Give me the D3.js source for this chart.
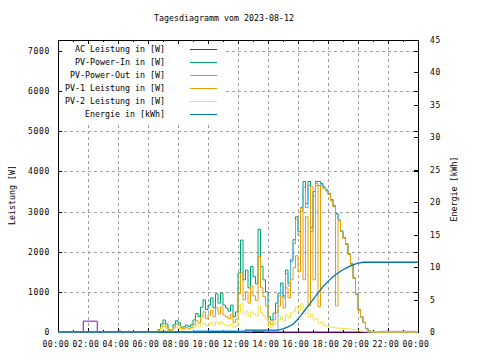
<!DOCTYPE html>
<html>
<head>
<meta charset="utf-8">
<script src="https://cdn.jsdelivr.net/npm/d3@7"></script>
<style>
    body { margin: 0; background: #fff; }
    svg text { font-family: "DejaVu Sans Mono", monospace; fill: #000; }
</style>
</head>
<body>
<div id="chart"></div>
<script>
//Datos
const TITLE = 'Tagesdiagramm vom 2023-08-12';
const xTickLabels = ['00:00','02:00','04:00','06:00','08:00','10:00','12:00','14:00','16:00','18:00','20:00','22:00','00:00'];
const y1Ticks = [0, 1000, 2000, 3000, 4000, 5000, 6000, 7000];
const y2Ticks = [0, 5, 10, 15, 20, 25, 30, 35, 40, 45];
const legendLabels = ['AC Leistung in [W]', 'PV-Power-In in [W]', 'PV-Power-Out in [W]', 'PV-1 Leistung in [W]', 'PV-2 Leistung in [W]', 'Energie in [kWh]'];

//AC Leistung (Stufen)
const acTimes = ['00:00','01:39','01:41','02:35','02:37','04:05','04:12','04:40','04:46','10:00','11:55','13:00','13:45','21:30','23:50'];
const acValues = [0, 0, 270, 270, 0, 25, 0, 20, 0, 15, 0, 15, 0, 15, 0];

//PV Reihen alle 10 Minuten ab 06:30
const pvStart = '06:30';
const pvStepMinutes = 10;
const pvIn = [0,60,200,300,200,60,40,180,280,230,
    120,130,170,140,180,300,460,380,620,800,
    560,670,850,600,950,720,970,670,600,520,
    670,380,500,1470,2290,1300,1540,1100,1630,1380,
    1200,2560,1630,1300,1000,380,300,470,720,970,
    1220,900,1540,1220,1800,2300,2870,2500,3100,3750,
    3200,3750,2600,3500,3750,3750,3700,3610,3540,3455,
    3300,3150,2950,2790,2520,2350,2200,1950,1700,1350,
    950,560,380,240,90,30,10,0];
const pvOut = [0,0,0,0,0,0,0,0,0,0,
    0,0,0,0,0,30,30,30,30,30,
    30,30,30,30,30,30,30,30,30,30,
    30,30,30,30,30,30,30,30,30,30,
    30,30,30,30,30,30,30,30,30,900,
    1150,850,1450,1150,1750,2200,2800,2400,3000,3600,
    3100,3650,2500,3400,3650,3650,3680,3595,3525,3440,
    3285,3135,2935,2780,2510,2340,2190,1940,1690,1340,
    940,550,375,235,85,28,8,0];
const pv1 = [0,40,130,216,140,40,30,120,200,160,
    80,90,110,90,110,180,280,220,370,500,
    330,420,540,380,600,450,620,420,380,330,
    430,240,320,950,1470,800,1000,720,1130,900,
    780,1880,1100,880,650,250,180,300,480,650,
    880,600,1100,850,1300,1600,1900,1500,3090,1300,
    2870,650,3620,1300,3700,630,3650,3580,3510,3420,
    3270,3120,650,2770,2500,2330,2180,1930,1680,1330,
    930,540,370,230,80,25,5,0];
const pv2 = [0,20,80,130,80,20,15,70,110,90,
    50,50,70,60,80,110,160,130,180,220,
    160,190,230,170,250,200,260,190,170,150,
    190,120,150,480,700,450,520,380,500,450,
    400,650,480,400,330,140,110,170,240,300,
    380,270,430,350,480,520,620,540,700,450,
    600,380,450,300,330,220,250,180,150,130,
    120,110,100,95,90,85,80,75,70,60,
    55,40,20,10,5,0,0,0];

//Energie (kWh)
const energyTimes = ['00:00','12:25','12:30','14:40','15:00','15:20','15:40','16:00','16:20','16:40','17:00','17:20','17:40','18:00','18:20','18:40','19:00','19:20','19:40','20:00','20:20','24:00'];
const energyValues = [0, 0, 0.3, 0.3, 0.5, 0.8, 1.2, 2.0, 3.0, 4.0, 5.0, 6.0, 7.0, 7.8, 8.5, 9.1, 9.6, 10.0, 10.35, 10.6, 10.75, 10.75];

//Colores fijos (gnuplot)
const COLOR_AC = '#9400d3',
COLOR_IN = '#009e73',
COLOR_OUT = '#56b4e9',
COLOR_PV1 = '#e69f00',
COLOR_PV2 = '#f0e442',
COLOR_ENERGY = '#0072b2';
const legendColors = [COLOR_AC, COLOR_IN, COLOR_OUT, COLOR_PV1, COLOR_PV2, COLOR_ENERGY];

function hours(s) {
    let p = s.split(':');
    return +p[0] + (+p[1]) / 60;
}

function initChart() {
    let margin = {top: 40, right: 62, bottom: 28, left: 58},
        totalW = 480, totalH = 360,
        width = totalW - margin.left - margin.right,
        height = totalH - margin.top - margin.bottom;

    let svg = d3.select('#chart')
        .append('svg')
            .attr('width', totalW)
            .attr('height', totalH);

    let x = d3.scaleLinear().domain([0, 24]).range([margin.left, margin.left + width]);
    let y1 = d3.scaleLinear().domain([0, 7275]).range([margin.top + height, margin.top]);
    let y2 = d3.scaleLinear().domain([0, 45]).range([margin.top + height, margin.top]);

    let x0 = margin.left, x1 = margin.left + width, yb = margin.top + height, yt = margin.top;

    //Gitter
    let grid = svg.append('g')
        .attr('stroke', '#a0a0a0')
        .attr('stroke-dasharray', '3,3')
        .attr('shape-rendering', 'crispEdges');
    grid.selectAll('.vgrid')
        .data(d3.range(2, 24, 2))
        .enter()
        .append('line')
        .attr('x1', function(d) { return Math.round(x(d)) + 0.5; })
        .attr('x2', function(d) { return Math.round(x(d)) + 0.5; })
        .attr('y1', yb)
        .attr('y2', yt);
    grid.selectAll('.hgrid')
        .data(y1Ticks.slice(1))
        .enter()
        .append('line')
        .attr('x1', x0)
        .attr('x2', x1)
        .attr('y1', function(d) { return Math.round(y1(d)) + 0.5; })
        .attr('y2', function(d) { return Math.round(y1(d)) + 0.5; });

    //Legende (opak)
    svg.append('rect')
        .attr('x', x0 + 1)
        .attr('y', yt + 1)
        .attr('width', 164)
        .attr('height', 81)
        .attr('fill', '#fff');

    //Rahmen
    svg.append('rect')
        .attr('x', x0 + 0.5)
        .attr('y', yt + 0.5)
        .attr('width', width)
        .attr('height', height)
        .attr('fill', 'none')
        .attr('stroke', '#000')
        .attr('shape-rendering', 'crispEdges');

    //Ticks
    let ticks = svg.append('g').attr('stroke', '#000').attr('shape-rendering', 'crispEdges');
    d3.range(1, 24).forEach(function(h) {
        let len = h % 2 == 0 ? 4 : 2;
        let xp = Math.round(x(h)) + 0.5;
        ticks.append('line').attr('x1', xp).attr('x2', xp).attr('y1', yb).attr('y2', yb - len);
        ticks.append('line').attr('x1', xp).attr('x2', xp).attr('y1', yt).attr('y2', yt + len);
    });
    y1Ticks.slice(1).forEach(function(d) {
        let yp = Math.round(y1(d)) + 0.5;
        ticks.append('line').attr('x1', x0).attr('x2', x0 + 4).attr('y1', yp).attr('y2', yp);
        ticks.append('line').attr('x1', x1).attr('x2', x1 - 4).attr('y1', yp).attr('y2', yp);
    });
    y2Ticks.slice(1, -1).forEach(function(d) {
        let yp = Math.round(y2(d)) + 0.5;
        ticks.append('line').attr('x1', x1).attr('x2', x1 - 4).attr('y1', yp).attr('y2', yp);
    });

    //Reihen
    let pvTimes = pvIn.map(function(d, i) { return hours(pvStart) + i * pvStepMinutes / 60; });

    function pvSeries(values) {
        let pts = [[0, 0]];
        values.forEach(function(v, i) { pts.push([pvTimes[i], v]); });
        pts.push([24, 0]);
        return pts;
    }

    let stepLine = d3.line()
        .curve(d3.curveStepAfter)
        .x(function(d) { return x(d[0]); })
        .y(function(d) { return y1(d[1]); });

    let series = [
        {color: COLOR_AC, pts: acTimes.map(function(t, i) { return [hours(t), acValues[i]]; })},
        {color: COLOR_IN, pts: pvSeries(pvIn)},
        {color: COLOR_OUT, pts: pvSeries(pvOut)},
        {color: COLOR_PV1, pts: pvSeries(pv1)},
        {color: COLOR_PV2, pts: pvSeries(pv2)}
    ];

    svg.append('g')
        .selectAll('path')
        .data(series)
        .enter()
        .append('path')
        .attr('d', function(d) { return stepLine(d.pts); })
        .attr('fill', 'none')
        .attr('stroke', function(d) { return d.color; })
        .attr('stroke-width', 1);

    let energyLine = d3.line()
        .x(function(d) { return x(hours(d.t)); })
        .y(function(d) { return y2(d.v); });

    svg.append('path')
        .datum(energyTimes.map(function(t, i) { return {t: t, v: energyValues[i]}; }))
        .attr('d', energyLine)
        .attr('fill', 'none')
        .attr('stroke', COLOR_ENERGY)
        .attr('stroke-width', 1.3);

    //Achsenbeschriftung
    svg.append('g')
        .selectAll('text')
        .data(y1Ticks)
        .enter()
        .append('text')
        .attr('x', 50)
        .attr('y', function(d) { return y1(d) + 3; })
        .attr('text-anchor', 'end')
        .style('font-size', '8px')
        .style('letter-spacing', '0.7px')
        .text(function(d) { return d; });

    svg.append('g')
        .selectAll('text')
        .data(y2Ticks)
        .enter()
        .append('text')
        .attr('x', 430)
        .attr('y', function(d) { return y2(d) + 3; })
        .style('font-size', '8px')
        .style('letter-spacing', '0.7px')
        .text(function(d) { return d; });

    svg.append('g')
        .selectAll('text')
        .data(xTickLabels)
        .enter()
        .append('text')
        .attr('x', function(d, i) { return x(i * 2) - 2; })
        .attr('y', 347)
        .attr('text-anchor', 'middle')
        .style('font-size', '8px')
        .style('letter-spacing', '0.6px')
        .text(function(d) { return d; });

    //Titel
    svg.append('text')
        .attr('x', 224)
        .attr('y', 21)
        .attr('text-anchor', 'middle')
        .style('font-size', '8.3px')
        .text(TITLE);

    svg.append('text')
        .attr('transform', 'translate(12,195) rotate(-90)')
        .attr('text-anchor', 'middle')
        .attr('dominant-baseline', 'central')
        .style('font-size', '8.3px')
        .text('Leistung [W]');

    svg.append('text')
        .attr('transform', 'translate(454,189) rotate(-90)')
        .attr('text-anchor', 'middle')
        .attr('dominant-baseline', 'central')
        .style('font-size', '8.3px')
        .text('Energie [kWh]');

    //Legende
    let key = svg.append('g')
        .selectAll('g')
        .data(legendLabels)
        .enter()
        .append('g')
        .attr('transform', function(d, i) { return 'translate(0,' + (49 + i * 12.9) + ')'; });

    key.append('text')
        .attr('x', 165)
        .attr('y', 3)
        .attr('text-anchor', 'end')
        .style('font-size', '8.3px')
        .text(function(d) { return d; });

    key.append('line')
        .attr('x1', 190)
        .attr('x2', 217)
        .attr('y1', 0.5)
        .attr('y2', 0.5)
        .attr('stroke', function(d, i) { return legendColors[i]; })
        .attr('stroke-width', 1)
        .attr('shape-rendering', 'crispEdges');
}

initChart();
</script>
</body>
</html>
